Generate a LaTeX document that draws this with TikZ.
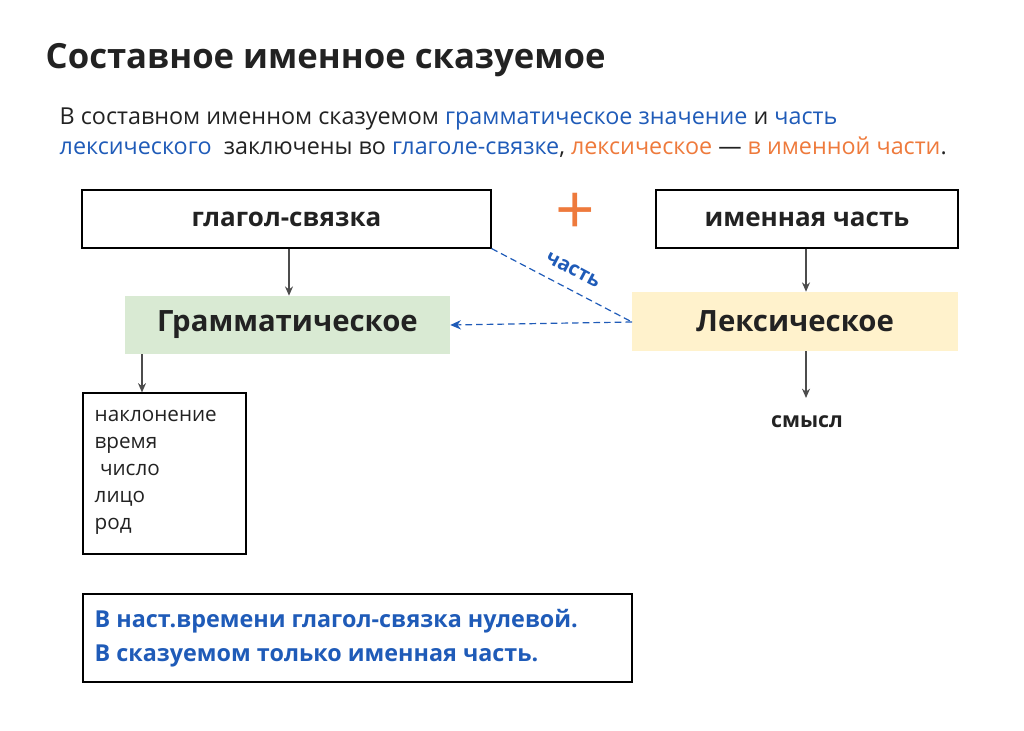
\documentclass[tikz,border=0pt]{standalone}
\usepackage{fontspec}
\setmainfont{Open Sans}
\usetikzlibrary{arrows.meta}
\definecolor{tblue}{HTML}{1F5BB8}
\definecolor{torange}{HTML}{EE7A3C}
\definecolor{tdark}{HTML}{222222}
\definecolor{gfill}{HTML}{D9EAD3}
\definecolor{yfill}{HTML}{FFF2CC}
\tikzset{
 box/.style={draw=black,line width=0.8pt,inner sep=0pt},
 arr/.style={draw=black!70,line width=1pt,-{Stealth[length=7pt,width=6pt]}},
 dsh/.style={draw=tblue,dash pattern=on 5pt off 3pt,line width=0.9pt}
}
\begin{document}
\begin{tikzpicture}[x=0.75pt,y=-0.75pt,every node/.style={text=tdark}]
\useasboundingbox (0,0) rectangle (1024,731);
\node[anchor=west,font=\fontsize{26}{30}\selectfont\bfseries] (title) at (41,60) {Составное именное сказуемое};
\node[anchor=west,font=\fontsize{17.5}{20}\selectfont] (p1) at (55,119) {В составном именном сказуемом \textcolor{tblue}{грамматическое значение} и \textcolor{tblue}{часть}};
\node[anchor=west,font=\fontsize{17.5}{20}\selectfont] (p2) at (55,147) {\textcolor{tblue}{лексического}\ \ заключены во \textcolor{tblue}{глаголе-связке}, \textcolor{torange}{лексическое} — \textcolor{torange}{в именной части}.};
\node[box,minimum width=0.75pt*409,minimum height=0.75pt*58,font=\fontsize{19.5}{23}\selectfont\bfseries] (gs) at (286.5,219) {глагол-связка};
\node[box,minimum width=0.75pt*302,minimum height=0.75pt*58,font=\fontsize{19.5}{23}\selectfont\bfseries] (ic) at (807,219) {именная часть};
\node[text=torange,font=\fontsize{52}{52}\selectfont] (plus) at (575,214) {+};
\node[fill=gfill,minimum width=0.75pt*325,minimum height=0.75pt*58,font=\fontsize{22}{26}\selectfont\bfseries] (gr) at (287.5,325) {Грамматическое};
\node[fill=yfill,minimum width=0.75pt*326,minimum height=0.75pt*59,font=\fontsize{22}{26}\selectfont\bfseries] (lx) at (795,321.5) {Лексическое};
\draw[arr] (gs.south -| 289,0) -- (gr.north -| 289,0);
\draw[arr] (ic.south -| 806,0) -- (lx.north -| 806,0);
\coordinate (lxw) at (632,322);
\draw[dsh] (gs.south east) -- (lxw);
\draw[dsh,-{Stealth[length=8pt,width=7pt]}] (lxw) -- (gr.east);
\node[text=tblue,rotate=-28,font=\fontsize{15}{17}\selectfont\bfseries] (ch) at (573,270) {часть};
\node[box,minimum width=0.75pt*163,minimum height=0.75pt*161] (lst) at (164.5,473.5) {};
\node[anchor=north west,align=left,font=\fontsize{15.5}{20.25}\selectfont] (items) at (90,406) {наклонение\\время\\ \ число\\лицо\\род};
\draw[arr] (142,354) -- (lst.north -| 142,0);
\draw[arr] (lx.south -| 806,0) -- (806,398);
\node[font=\fontsize{16}{18}\selectfont\bfseries] (sm) at (807,422) {смысл};
\node[box,minimum width=0.75pt*549,minimum height=0.75pt*88] (nb) at (357.5,638) {};
\node[anchor=north west,align=left,text=tblue,font=\fontsize{17.5}{25.5}\selectfont\bfseries] (nt) at (90,605) {В наст.времени глагол-связка нулевой.\\В сказуемом только именная часть.};
\end{tikzpicture}
\end{document}
